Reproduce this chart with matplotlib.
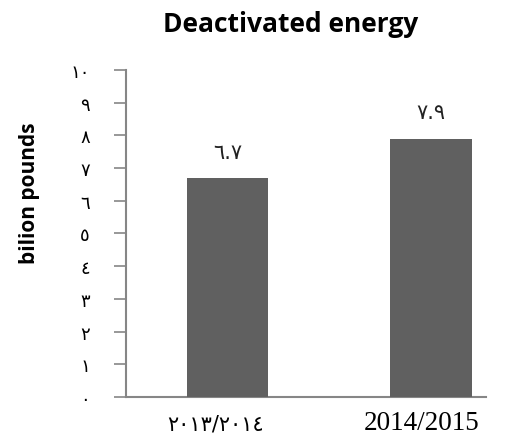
import numpy as np
import matplotlib.pyplot as plt

# данные
years = ['٢٠١٣/٢٠١٤', '2014/2015']
values = [6.7, 7.9]
value_labels = ['٦.٧', '٧.٩']
y_ticks = list(range(0, 11))
y_tick_labels = ['٠', '١', '٢', '٣', '٤', '٥', '٦', '٧', '٨', '٩', '١٠']

fig = plt.figure(figsize=(5.28, 4.39), dpi=100)
ax = fig.add_axes([0.2386, 0.0934, 0.6819, 0.7449])

pos = np.arange(len(values))
ax.bar(pos, values, width=0.4, color='#606060', zorder=3)

for p, v, s in zip(pos, values, value_labels):
    ax.text(p, v + 0.5, s, ha='center', va='bottom', fontsize=15,
            family='DejaVu Sans', color='#222222')

ax.set_xlim(-0.499, 1.27)
ax.set_ylim(0, 10)

# оси
for side in ['top', 'right']:
    ax.spines[side].set_visible(False)
for side in ['left', 'bottom']:
    ax.spines[side].set_color('#868686')
    ax.spines[side].set_linewidth(1.5)

ax.set_yticks(y_ticks)
ax.set_yticklabels(y_tick_labels, fontsize=13, family='DejaVu Sans')
ax.tick_params(axis='y', length=9, width=1.2, color='#868686', pad=17)

ax.set_xticks(pos)
ax.set_xticklabels([])
ax.tick_params(axis='x', length=0)
ax.text(pos[0] - 0.06, -0.05, years[0], transform=ax.get_xaxis_transform(),
        ha='center', va='top', fontsize=15, family='DejaVu Sans')
ax.text(pos[1] - 0.045, -0.04, years[1], transform=ax.get_xaxis_transform(),
        ha='center', va='top', fontsize=19.5, family='Liberation Serif')

ax.set_ylabel('bilion pounds', fontsize=15, fontweight='bold', family='Open Sans')
ax.yaxis.set_label_coords(-0.24, 0.627)
fig.suptitle('Deactivated energy', fontsize=19, fontweight='bold', family='Open Sans',
             x=0.55, y=0.975)

plt.savefig('out.png')
